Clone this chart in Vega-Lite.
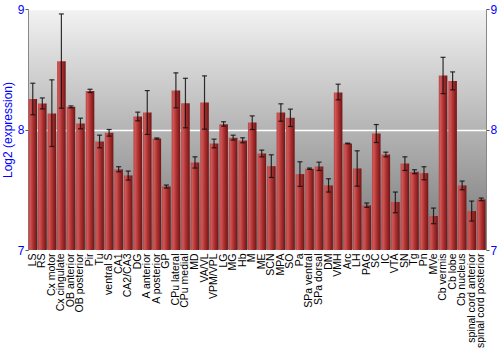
{
  "$schema": "https://vega.github.io/schema/vega-lite/v6.json",
  "width": 458,
  "height": 241,
  "autosize": {"type": "none"},
  "padding": {"left": 28, "top": 9, "right": 14, "bottom": 100},
  "background": "white",
  "config": {
    "font": "Liberation Sans",
    "view": {
      "stroke": "#888888",
      "strokeWidth": 1,
      "fill": {"gradient": "linear", "x1": 0, "y1": 0, "x2": 0, "y2": 1,
        "stops": [{"offset": 0, "color": "#f2f2f2"}, {"offset": 1, "color": "#767676"}]}
    }
  },
  "data": {"values": [
    {"region": "LS", "value": 8.254, "lo": 8.122, "hi": 8.384},
    {"region": "RS", "value": 8.215, "lo": 8.171, "hi": 8.262},
    {"region": "Cx motor", "value": 8.133, "lo": 7.859, "hi": 8.412},
    {"region": "Cx cingulate", "value": 8.566, "lo": 8.177, "hi": 8.959},
    {"region": "OB anterior", "value": 8.188, "lo": 8.18, "hi": 8.196},
    {"region": "OB posterior", "value": 8.05, "lo": 8.006, "hi": 8.094},
    {"region": "Pir", "value": 8.32, "lo": 8.307, "hi": 8.334},
    {"region": "Tu", "value": 7.901, "lo": 7.848, "hi": 7.953},
    {"region": "ventral S", "value": 7.972, "lo": 7.945, "hi": 8.0},
    {"region": "CA1", "value": 7.669, "lo": 7.649, "hi": 7.691},
    {"region": "CA2/CA3", "value": 7.619, "lo": 7.58, "hi": 7.655},
    {"region": "DG", "value": 8.108, "lo": 8.072, "hi": 8.144},
    {"region": "A anterior", "value": 8.141, "lo": 7.959, "hi": 8.323},
    {"region": "A posterior", "value": 7.925, "lo": 7.92, "hi": 7.93},
    {"region": "GP", "value": 7.528, "lo": 7.514, "hi": 7.539},
    {"region": "CPu lateral", "value": 8.323, "lo": 8.18, "hi": 8.47},
    {"region": "CPu medial", "value": 8.218, "lo": 8.014, "hi": 8.425},
    {"region": "MD", "value": 7.727, "lo": 7.68, "hi": 7.773},
    {"region": "VA/VL", "value": 8.224, "lo": 8.003, "hi": 8.445},
    {"region": "VPM/VPL", "value": 7.884, "lo": 7.848, "hi": 7.92},
    {"region": "LG", "value": 8.044, "lo": 8.028, "hi": 8.064},
    {"region": "MG", "value": 7.931, "lo": 7.912, "hi": 7.953},
    {"region": "Hb", "value": 7.909, "lo": 7.89, "hi": 7.931},
    {"region": "M", "value": 8.058, "lo": 8.0, "hi": 8.113},
    {"region": "ME", "value": 7.801, "lo": 7.773, "hi": 7.829},
    {"region": "SCN", "value": 7.696, "lo": 7.602, "hi": 7.79},
    {"region": "MPA", "value": 8.141, "lo": 8.069, "hi": 8.213},
    {"region": "SO", "value": 8.097, "lo": 8.025, "hi": 8.169},
    {"region": "Pa", "value": 7.63, "lo": 7.528, "hi": 7.732},
    {"region": "SPa ventral", "value": 7.674, "lo": 7.669, "hi": 7.68},
    {"region": "SPa dorsal", "value": 7.693, "lo": 7.66, "hi": 7.729},
    {"region": "DM", "value": 7.536, "lo": 7.481, "hi": 7.591},
    {"region": "VMH", "value": 8.307, "lo": 8.246, "hi": 8.376},
    {"region": "Arc", "value": 7.884, "lo": 7.881, "hi": 7.887},
    {"region": "LH", "value": 7.677, "lo": 7.53, "hi": 7.823},
    {"region": "PAG", "value": 7.37, "lo": 7.354, "hi": 7.39},
    {"region": "SC", "value": 7.967, "lo": 7.892, "hi": 8.041},
    {"region": "IC", "value": 7.793, "lo": 7.773, "hi": 7.812},
    {"region": "VTA", "value": 7.398, "lo": 7.309, "hi": 7.481},
    {"region": "SN", "value": 7.718, "lo": 7.66, "hi": 7.773},
    {"region": "Tg", "value": 7.649, "lo": 7.633, "hi": 7.666},
    {"region": "Pn", "value": 7.638, "lo": 7.583, "hi": 7.691},
    {"region": "MVe", "value": 7.282, "lo": 7.218, "hi": 7.348},
    {"region": "Cb vermis", "value": 8.448, "lo": 8.298, "hi": 8.599},
    {"region": "Cb lobe", "value": 8.403, "lo": 8.329, "hi": 8.478},
    {"region": "Cb nucleus", "value": 7.536, "lo": 7.5, "hi": 7.572},
    {"region": "spinal cord anterior", "value": 7.323, "lo": 7.24, "hi": 7.406},
    {"region": "spinal cord posterior", "value": 7.42, "lo": 7.409, "hi": 7.431}
  ]},
  "encoding": {
    "x": {
      "field": "region", "type": "nominal", "sort": null,
      "scale": {"paddingInner": 0.1, "paddingOuter": 0.05},
      "axis": {
        "title": null, "labelAngle": -90, "labelFontSize": 10.5, "labelColor": "#000000",
        "ticks": false, "domain": false, "labelPadding": 3, "labelLimit": 200
      }
    }
  },
  "layer": [
    {
      "mark": {
        "type": "bar",
        "color": {"gradient": "linear", "x1": 0, "y1": 0, "x2": 1, "y2": 0,
          "stops": [
            {"offset": 0, "color": "#b84646"},
            {"offset": 0.2, "color": "#cf5656"},
            {"offset": 0.55, "color": "#ad3030"},
            {"offset": 1, "color": "#6e1616"}
          ]}
      },
      "encoding": {
        "y": {
          "field": "value", "type": "quantitative",
          "scale": {"domain": [7, 9], "zero": false, "nice": false},
          "axis": {
            "title": "Log2 (expression)", "titleColor": "#0000ff", "titleFontSize": 12,
            "titleFontWeight": "normal", "titlePadding": 3,
            "values": [7, 8, 9], "labelExpr": "format(datum.value, 'd')", "labelOverlap": false,
            "labelColor": "#0000ff", "labelFontSize": 12,
            "tickColor": "#555555", "tickSize": 3, "labelPadding": 1,
            "domain": false,
            "grid": true, "gridColor": "#ffffff", "gridWidth": 1.5
          }
        },
        "y2": {"datum": 7}
      }
    },
    {
      "mark": {"type": "errorbar", "ticks": {"size": 5, "color": "#111111"}, "color": "#111111", "opacity": 0.85, "thickness": 1.2},
      "encoding": {
        "y": {"field": "lo", "type": "quantitative", "title": null, "axis": null},
        "y2": {"field": "hi"}
      }
    },
    {
      "mark": {"type": "point", "opacity": 0},
      "encoding": {
        "y": {
          "field": "value", "type": "quantitative",
          "axis": {
            "orient": "right", "title": null, "values": [7, 8, 9],
            "labelExpr": "format(datum.value, 'd')", "labelOverlap": false,
            "labelColor": "#0000ff", "labelFontSize": 12, "tickColor": "#555555",
            "tickSize": 3, "labelPadding": 1, "domain": false, "grid": false
          }
        }
      }
    }
  ],
  "resolve": {"axis": {"y": "independent"}}
}
